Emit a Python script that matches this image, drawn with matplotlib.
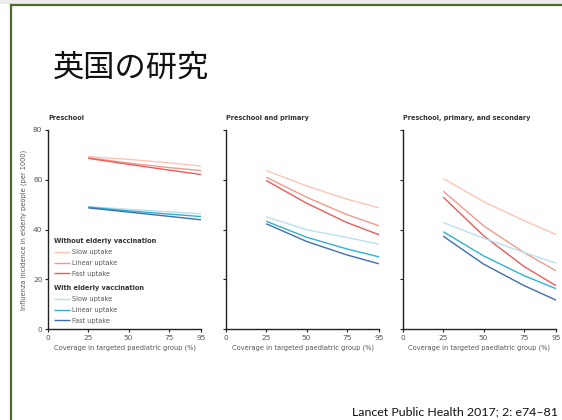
import matplotlib
matplotlib.use("Agg")
import matplotlib.pyplot as plt
from matplotlib.lines import Line2D
from matplotlib.patches import Rectangle

plt.rcParams['font.family'] = ['Liberation Sans Narrow', 'DejaVu Sans']

# Coverage levels (%) in the targeted paediatric group
coverage = [25, 50, 75, 95]

panel_titles = ["Preschool", "Preschool and primary", "Preschool, primary, and secondary"]
uptake_labels = ["Slow uptake", "Linear uptake", "Fast uptake"]

# Influenza incidence in elderly people (per 1000), without elderly vaccination
without_slow = [
    [69.3, 68.2, 66.8, 65.5],
    [63.7, 57.5, 52.2, 48.7],
    [60.5, 51.2, 43.6, 38.0],
]
without_linear = [
    [68.9, 66.7, 64.9, 63.7],
    [61.0, 53.0, 46.0, 41.5],
    [55.4, 41.5, 30.8, 23.4],
]
without_fast = [
    [68.6, 66.2, 63.9, 62.1],
    [59.7, 50.6, 42.8, 37.9],
    [53.0, 37.5, 25.2, 17.4],
]

# Influenza incidence in elderly people (per 1000), with elderly vaccination
with_slow = [
    [49.2, 48.1, 47.1, 46.3],
    [45.1, 39.9, 36.8, 34.1],
    [42.8, 36.5, 30.8, 26.5],
]
with_linear = [
    [49.0, 47.5, 46.2, 45.2],
    [43.3, 36.9, 32.2, 29.0],
    [39.1, 29.4, 21.5, 16.2],
]
with_fast = [
    [48.7, 47.0, 45.3, 43.9],
    [42.3, 35.2, 29.8, 26.2],
    [37.3, 26.1, 17.5, 11.6],
]

x_ticks = [0, 25, 50, 75, 95]
y_ticks = [0, 20, 40, 60, 80]

red_colors = ["#fbc6b6", "#f39a8c", "#ec5b5b"]
blue_colors = ["#b8e0ee", "#2eb2d2", "#3f6db0"]

fig = plt.figure(figsize=(5.62, 4.2), dpi=100)
W, H = 562, 420

# Slide frame
fig.patches.append(Rectangle((0, (H - 4) / H), 1, 4 / H, transform=fig.transFigure,
                             facecolor="#ececec", edgecolor="none", zorder=0))
frame_color = "#4e6b2c"
fig.add_artist(Line2D([11 / W, 11 / W], [0, (H - 5) / H], color=frame_color, lw=1.6,
                      transform=fig.transFigure))
fig.add_artist(Line2D([11 / W, 1], [(H - 5) / H, (H - 5) / H], color=frame_color, lw=1.6,
                      transform=fig.transFigure))

# Slide title and citation
fig.text(53 / W, 1 - 68 / H, "英国の研究", fontsize=22.5, va="center", ha="left",
         family=["Noto Sans CJK JP", "DejaVu Sans"], color="#111111")
fig.text(558 / W, 1 - 412 / H, "Lancet Public Health 2017; 2: e74\u201381", fontsize=8.9,
         ha="right", va="center", family=["Lato", "DejaVu Sans"], color="#111111")

lefts = [48, 226, 403]
ax_w = 153
ax_top, ax_bot = 130, 329
tick_color = "#555555"

axes = []
for i, lx in enumerate(lefts):
    ax = fig.add_axes([lx / W, 1 - ax_bot / H, ax_w / W, (ax_bot - ax_top) / H])
    axes.append(ax)
    series = [without_slow, without_linear, without_fast]
    for s, c, lab in zip(series, red_colors, uptake_labels):
        ax.plot(coverage, s[i], color=c, lw=1.0, label=lab, solid_capstyle="butt")
    series = [with_slow, with_linear, with_fast]
    for s, c, lab in zip(series, blue_colors, uptake_labels):
        ax.plot(coverage, s[i], color=c, lw=1.0, label=lab, solid_capstyle="butt")

    ax.set_xlim(0, 95)
    ax.set_ylim(0, 80)
    ax.set_xticks(x_ticks)
    ax.set_yticks(y_ticks)
    ax.spines[["top", "right"]].set_visible(False)
    for sp in ("left", "bottom"):
        ax.spines[sp].set_linewidth(1.0)
        ax.spines[sp].set_color("#222222")
    ax.tick_params(direction="out", length=2.5, width=0.8, labelsize=5.3,
                   pad=1.5, colors="#222222")
    ax.tick_params(labelcolor=tick_color)
    if i > 0:
        ax.set_yticklabels([])
    ax.set_xlabel("Coverage in targeted paediatric group (%)", fontsize=4.8,
                  color=tick_color, labelpad=2.5)
    ax.set_title(panel_titles[i], fontsize=4.7, fontweight="bold", loc="left",
                 color="#333333", pad=7.5, x=0.0)
    ax.set_facecolor("none")

axes[0].set_ylabel("Influenza incidence in elderly people (per 1000)", fontsize=4.8,
                   color=tick_color, labelpad=4)

# Legends: one block per vaccination scenario
lines = axes[0].get_lines()
leg_kw = dict(frameon=False, fontsize=4.7, handlelength=2.4, handletextpad=0.35,
              labelspacing=0.75, borderaxespad=0, borderpad=0, alignment="left",
              title_fontproperties={"weight": "bold", "size": 4.8})
leg1 = axes[0].legend(lines[:3], uptake_labels, title="Without elderly vaccination",
                      loc="upper left", bbox_to_anchor=(0.04, (ax_bot - 238) / (ax_bot - ax_top)),
                      **leg_kw)
for t in leg1.get_texts():
    t.set_color(tick_color)
leg1.get_title().set_color("#333333")
axes[0].add_artist(leg1)
leg2 = axes[0].legend(lines[3:], uptake_labels, title="With elderly vaccination",
                      loc="upper left", bbox_to_anchor=(0.04, (ax_bot - 285) / (ax_bot - ax_top)),
                      **leg_kw)
for t in leg2.get_texts():
    t.set_color(tick_color)
leg2.get_title().set_color("#333333")

fig.savefig("out.png", dpi=100, facecolor="white")
